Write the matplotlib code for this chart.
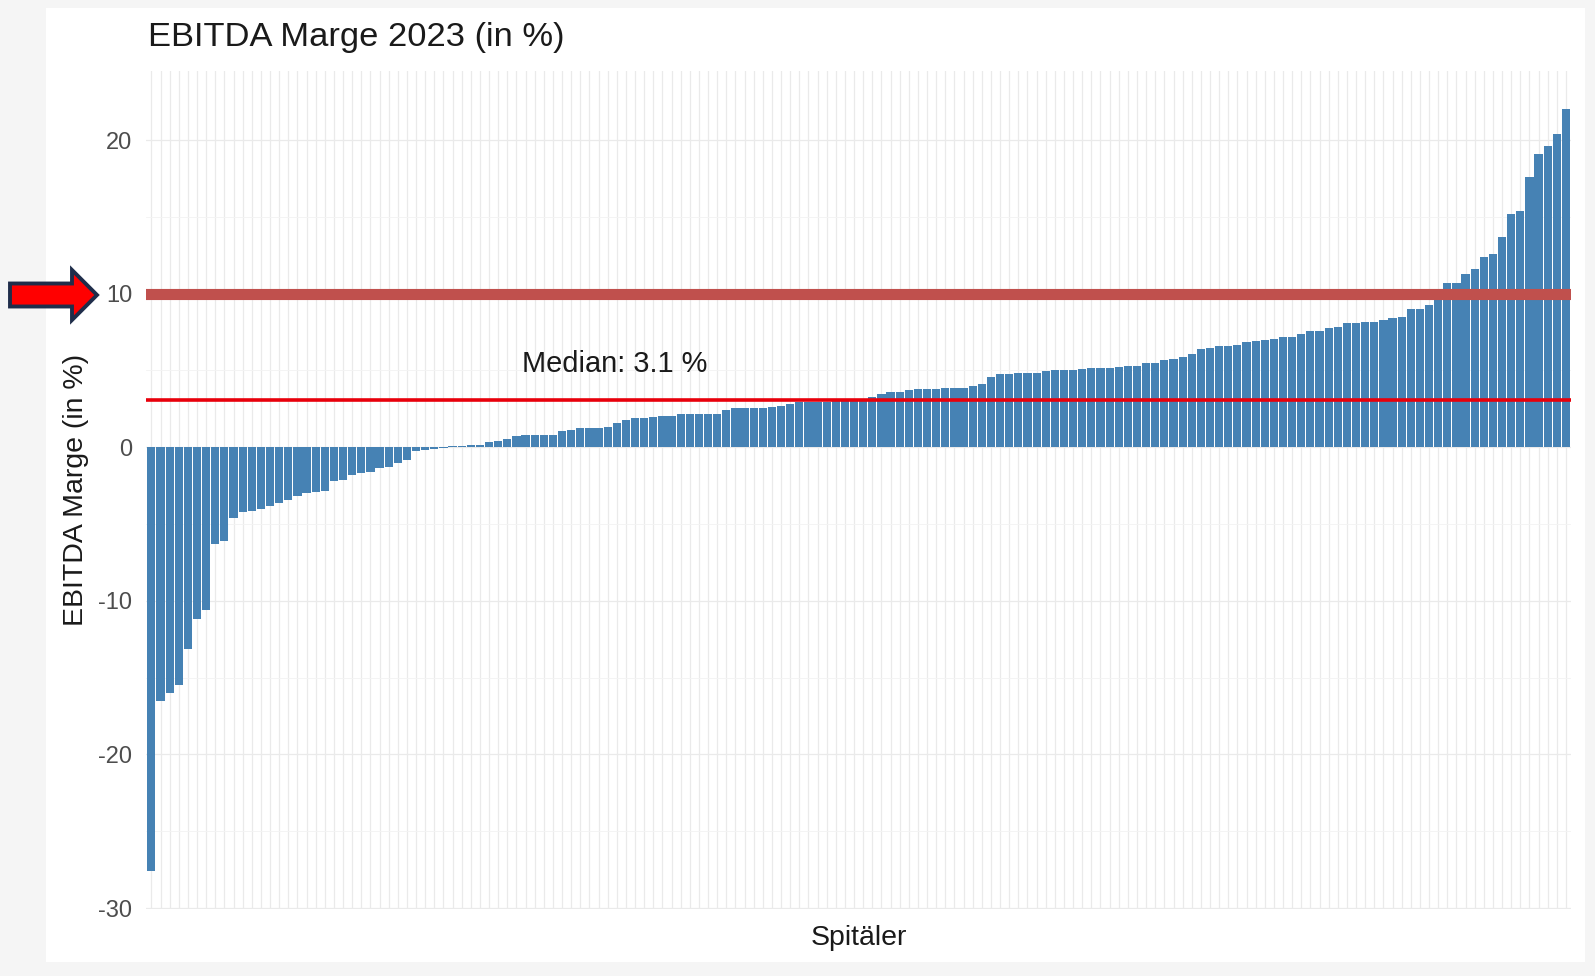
import numpy as np
import matplotlib
matplotlib.use('Agg')
import matplotlib.pyplot as plt
from matplotlib.patches import Polygon, Rectangle

plt.rcParams['font.family'] = ['Liberation Sans', 'DejaVu Sans']
plt.rcParams['axes.unicode_minus'] = False

W, H = 1595, 976

# EBITDA margin per hospital, sorted ascending
margins = [
    -27.6, -16.5, -16.0, -15.5, -13.1, -11.2, -10.6, -6.3, -6.1, -4.6,
    -4.2, -4.15, -4.0, -3.85, -3.6, -3.45, -3.2, -3.0, -2.9, -2.85,
    -2.2, -2.1, -1.8, -1.65, -1.6, -1.35, -1.3, -1.0, -0.8, -0.25,
    -0.2, -0.1, -0.05, 0.07, 0.1, 0.12, 0.17, 0.33, 0.43, 0.54,
    0.72, 0.8, 0.82, 0.82, 0.83, 1.04, 1.1, 1.26, 1.26, 1.27,
    1.32, 1.58, 1.8, 1.9, 1.92, 1.95, 2.04, 2.05, 2.15, 2.18,
    2.2, 2.2, 2.2, 2.43, 2.54, 2.54, 2.55, 2.56, 2.65, 2.66,
    2.8, 2.97, 2.97, 2.98, 2.98, 2.99, 3.0, 3.05, 3.15, 3.25,
    3.5, 3.6, 3.62, 3.7, 3.8, 3.8, 3.82, 3.84, 3.85, 3.86,
    4.0, 4.1, 4.6, 4.75, 4.76, 4.82, 4.83, 4.84, 4.97, 5.0,
    5.01, 5.02, 5.1, 5.14, 5.18, 5.19, 5.2, 5.3, 5.32, 5.5,
    5.52, 5.68, 5.72, 5.9, 6.1, 6.4, 6.49, 6.6, 6.62, 6.66,
    6.88, 6.9, 6.98, 7.03, 7.16, 7.17, 7.38, 7.57, 7.58, 7.79,
    7.8, 8.11, 8.12, 8.13, 8.18, 8.29, 8.39, 8.5, 9.0, 9.02,
    9.26, 9.63, 10.7, 10.72, 11.26, 11.63, 12.4, 12.56, 13.67, 15.18,
    15.4, 17.57, 19.07, 19.63, 20.37, 22.0,
]
target = 10
y_ticks = [-30, -20, -10, 0, 10, 20]
y_minor = [-25, -15, -5, 5, 15]

median = np.median(margins)
x = np.arange(1, len(margins) + 1)


def px(xp, yp):
    return xp / W, 1 - yp / H


fig = plt.figure(figsize=(W / 100, H / 100), dpi=100, facecolor='#f5f5f5')
fig.add_artist(Rectangle(px(46, 962), (1585 - 46) / W, (962 - 8) / H,
                         transform=fig.transFigure, facecolor='white',
                         edgecolor='none', zorder=0))

ax = fig.add_axes([145.9 / W, 1 - 909.3 / H, (1571.4 - 145.9) / W, (909.3 - 71.3) / H])
ax.set_facecolor('none')

ax.bar(x, margins, width=0.9, color='#4682B4', zorder=2)
ax.axhline(target, color='#C0504D', lw=8, zorder=3)
ax.axhline(median, color='#E8000B', lw=2.6, zorder=3)
ax.text(51.8, 5.42, f'Median: {median:.1f} %', ha='center', va='center',
        fontsize=20.9, color='#1a1a1a', zorder=4)

ax.set_xlim(0.4, len(margins) + 0.6)
ax.set_ylim(-30.08, 24.48)
ax.set_xticks(x)
ax.set_xticklabels([])
ax.set_yticks(y_ticks)
ax.set_yticks(y_minor, minor=True)
ax.set_yticklabels([str(t) for t in y_ticks])
ax.tick_params(axis='both', which='both', length=0)
ax.tick_params(axis='y', labelsize=17, labelcolor='#4D4D4D', pad=10)
ax.grid(True, which='major', color='#EAEAEA', lw=0.9, zorder=0)
ax.grid(True, which='minor', axis='y', color='#F3F3F3', lw=0.6, zorder=0)
ax.set_axisbelow(True)
for s in ax.spines.values():
    s.set_visible(False)

fig.text(*px(147.5, 37.6), 'EBITDA Marge 2023 (in %)', ha='left', va='center',
         fontsize=24.8, color='#1a1a1a')
fig.text(*px(858.6, 938), 'Spitäler', ha='center', va='center', fontsize=20.5,
         color='#1a1a1a')
fig.text(*px(76, 490), 'EBITDA Marge (in %)', ha='center', va='center',
         rotation=90, fontsize=20.5, color='#1a1a1a')

# highlight arrow pointing at the 10 % line
arrow = [(10, 283.5), (72, 283.5), (72, 270), (97, 295), (72, 320),
         (72, 306.5), (10, 306.5)]
fig.add_artist(Polygon([px(a, b) for a, b in arrow], closed=True,
                       transform=fig.transFigure, facecolor='#FF0000',
                       edgecolor='#1F2D4A', lw=2.8, joinstyle='miter', zorder=5))

fig.savefig('out.png', dpi=100, facecolor=fig.get_facecolor())
